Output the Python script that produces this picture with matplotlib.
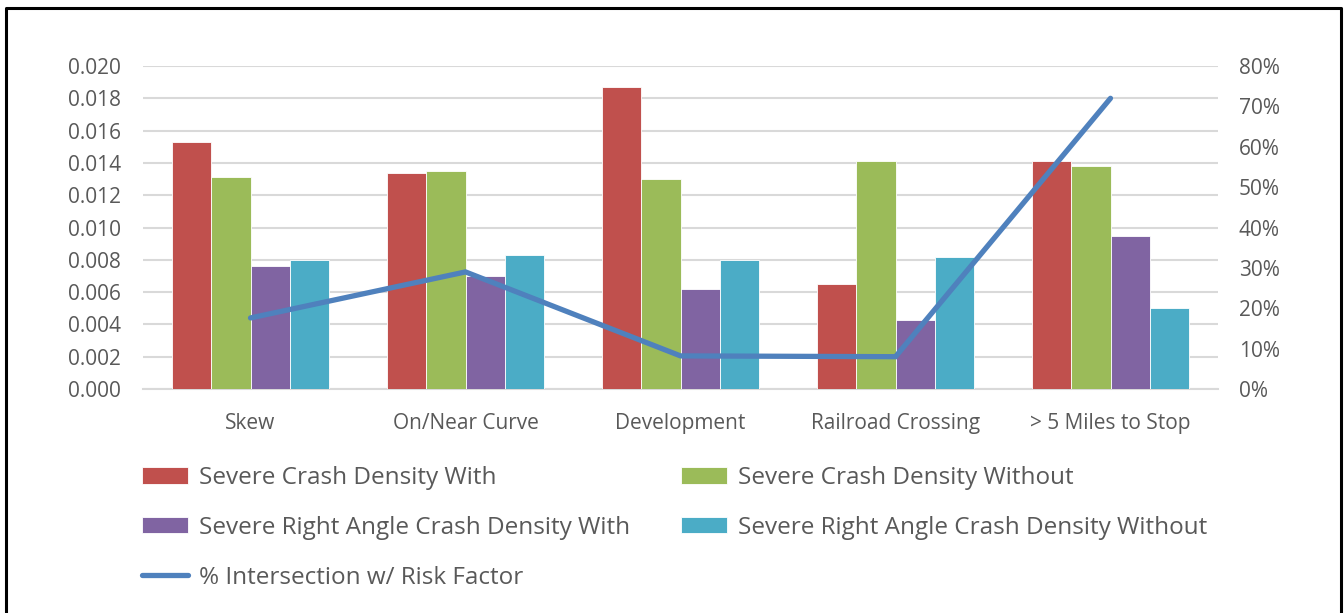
import matplotlib
matplotlib.use("Agg")
import matplotlib.pyplot as plt
from matplotlib.lines import Line2D
import numpy as np

categories = ["Skew", "On/Near Curve", "Development", "Railroad Crossing", "> 5 Miles to Stop"]
severe_with = [0.0153, 0.0134, 0.0187, 0.0065, 0.0141]
severe_without = [0.0131, 0.0135, 0.0130, 0.0141, 0.0138]
right_angle_with = [0.0076, 0.0070, 0.0062, 0.0043, 0.0095]
right_angle_without = [0.0080, 0.0083, 0.0080, 0.0082, 0.0050]
pct_risk = [17.6, 29.0, 8.2, 8.0, 72.0]

series_names = ["Severe Crash Density With", "Severe Crash Density Without",
                "Severe Right Angle Crash Density With", "Severe Right Angle Crash Density Without"]
line_name = "% Intersection w/ Risk Factor"
left_ticks = [0.000, 0.002, 0.004, 0.006, 0.008, 0.010, 0.012, 0.014, 0.016, 0.018, 0.020]
right_ticks = [0, 10, 20, 30, 40, 50, 60, 70, 80]

colors = ["#c0504d", "#9bbb59", "#8064a2", "#4bacc6"]
line_color = "#4f81bd"
text_color = "#595959"
grid_color = "#d9d9d9"
FONT = "Open Sans"

plt.rcParams["font.family"] = [FONT, "DejaVu Sans"]

fig = plt.figure(figsize=(13.44, 6.13), dpi=100)
ax = fig.add_axes([143/1344, 1-389/613, (1218-143)/1344, (389-66)/613])
ax2 = ax.twinx()

x = np.arange(len(categories))
bw = 1/5.5
data = [severe_with, severe_without, right_angle_with, right_angle_without]
handles = []
for i, (vals, c, name) in enumerate(zip(data, colors, series_names)):
    b = ax.bar(x + (i-1.5)*bw, vals, bw, color=c, edgecolor="white", linewidth=0.6, label=name, zorder=3)
    handles.append(b)

TICK_FS = 15
ax.set_xlim(-0.5, len(categories)-0.5)
ax.set_ylim(0, 0.020)
ax.set_yticks(left_ticks)
ax.set_yticklabels([f"{t:.3f}" for t in left_ticks])
ax.set_xticks(x)
ax.set_xticklabels(categories)
ax.grid(axis="y", color=grid_color, linewidth=1.5, zorder=0)
ax.set_axisbelow(True)
for s in ["top", "right", "left"]:
    ax.spines[s].set_visible(False)
ax.spines["bottom"].set_color(grid_color)
ax.spines["bottom"].set_linewidth(1.5)
ax.tick_params(axis="y", length=0, pad=16, labelsize=TICK_FS, labelcolor=text_color)
ax.tick_params(axis="x", length=0, pad=17, labelsize=TICK_FS, labelcolor=text_color)

ln, = ax2.plot(x, pct_risk, color=line_color, linewidth=3.8, solid_capstyle="round",
               solid_joinstyle="miter", label=line_name, zorder=5)
ax2.set_ylim(0, 80)
ax2.set_yticks(right_ticks)
ax2.set_yticklabels([f"{t}%" for t in right_ticks])
for s in ["top", "right", "left", "bottom"]:
    ax2.spines[s].set_visible(False)
ax2.tick_params(axis="y", length=0, pad=15, labelsize=TICK_FS, labelcolor=text_color)

LEG_FS = 17.5
leg_handles = [handles[0], handles[2], ln, handles[1], handles[3]]
leg_labels = [series_names[0], series_names[2], line_name, series_names[1], series_names[3]]
leg = fig.legend(leg_handles, leg_labels, ncol=2, loc="upper left",
                 bbox_to_anchor=(142/1344, 1-466/613), frameon=False,
                 fontsize=LEG_FS, handlelength=1.9, handleheight=0.66, handletextpad=0.45,
                 columnspacing=2.1, labelspacing=1.06, borderaxespad=0, borderpad=0)
for t in leg.get_texts():
    t.set_color(text_color)

# outer frame (left, top, right)
fig.add_artist(Line2D([6/1344, 6/1344, 1341/1344, 1341/1344],
                      [0, 1-8/613, 1-8/613, 0], transform=fig.transFigure,
                      color="black", linewidth=2.2))

fig.savefig("out.png", dpi=100)
